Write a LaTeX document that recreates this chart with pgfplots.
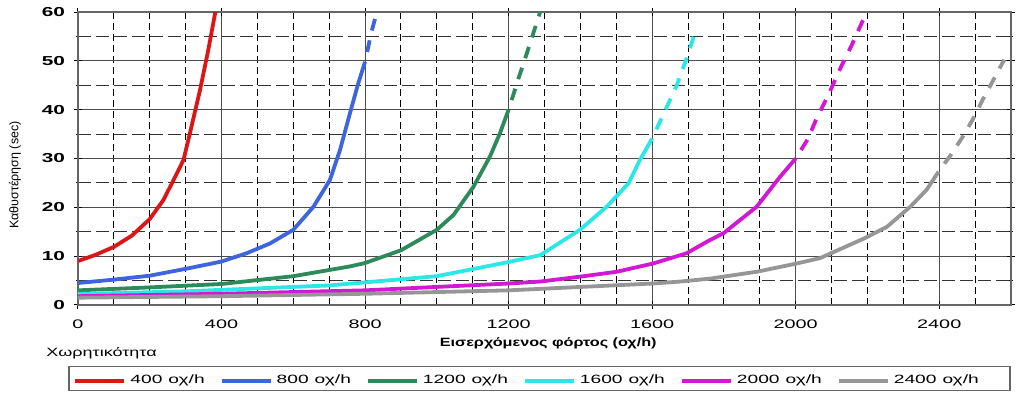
\documentclass[border=0pt]{standalone}
\usepackage{fontspec}
\setmainfont{Liberation Sans}[FakeStretch=1.6]
\newfontfamily\plainfont{Liberation Sans}
\usepackage{pgfplots}
\pgfplotsset{compat=1.18}
\definecolor{cred}{RGB}{220,22,22}
\definecolor{cblue}{RGB}{62,100,222}
\definecolor{cgreen}{RGB}{46,138,90}
\definecolor{ccyan}{RGB}{45,230,230}
\definecolor{cmag}{RGB}{210,24,210}
\definecolor{cgray}{RGB}{150,150,150}
\begin{document}
\begin{tikzpicture}
\useasboundingbox (0,0) rectangle (512pt,200pt);
\begin{axis}[
  at={(39pt,47.5pt)}, anchor=south west,
  scale only axis, width=466.5pt, height=146.5pt,
  xmin=0, xmax=2600, ymin=0, ymax=60,
  xtick={0,400,...,2400}, ytick={0,10,...,60},
  minor xtick={100,200,300,500,600,700,900,1000,1100,1300,1400,1500,1700,1800,1900,2100,2200,2300,2500},
  minor ytick={5,15,...,55},
  grid=both,
  major grid style={black!70, line width=0.5pt},
  minor x grid style={black, line width=0.5pt, dash pattern=on 3.5pt off 2pt},
  minor y grid style={black!80, line width=0.5pt, dash pattern=on 6.5pt off 2.5pt},
  axis line style={black!60, line width=0.6pt},
  tick align=center, major tick length=4pt, minor tick length=1.5pt,
  tick style={black, line width=0.5pt},
  /pgf/number format/assume math mode=true,
  /pgf/number format/1000 sep={},
  xticklabel style={font=\fontsize{6.2}{7}\selectfont, yshift=-2pt},
  yticklabel style={font=\fontsize{6.5}{7}\selectfont\bfseries, xshift=-1pt},
  ylabel={\plainfont Καθυστέρηση (sec)},
  ylabel style={font=\fontsize{6.25}{7}\selectfont, at={(axis description cs:-0.0675,0.4437)}, anchor=center},
  clip mode=individual,
  legend columns=6,
  legend cell align=left,
  legend style={at={(axis description cs:-0.00965,-0.2106)}, anchor=north west,
    draw=none, fill=none, inner xsep=2pt, inner ysep=2pt,
    font=\fontsize{6}{7}\selectfont,
    /tikz/every even column/.append style={column sep=5.5pt}},
  legend image code/.code={\draw[#1, line width=2pt, solid] (0pt,0pt) -- (24.5pt,0pt);},
  every axis plot/.append style={line width=1.9pt, line join=round},
]
% solid parts
\addplot[cred] coordinates {(0,9) (50,10.3) (100,11.9) (150,14.2) (200,17.6) (238,21.5) (265,25.4) (294,29.7) (312,35.2) (340,44) (363,52.2) (382,59.7) (388,62)};
\addlegendentry{400\enspace οχ/h}
\addplot[cblue] coordinates {(0,4.5) (100,5.2) (200,6.0) (300,7.4) (400,8.9) (470,10.6) (535,12.6) (600,15.4) (656,20.1) (702,25.6) (730,31.7) (758,39.3) (781,45.4) (800,49.8)};
\addlegendentry{800\enspace οχ/h}
\addplot[cgreen] coordinates {(0,3) (200,3.6) (400,4.3) (600,5.9) (758,7.9) (800,8.6) (900,11.2) (1000,15.4) (1046,18.4) (1102,24.2) (1148,30.4) (1176,35.2) (1200,40)};
\addlegendentry{1200\enspace οχ/h}
\addplot[ccyan] coordinates {(0,2.25) (300,2.8) (700,4.0) (1000,5.9) (1200,8.8) (1288,10.2) (1399,15.4) (1473,20.1) (1534,24.9) (1566,29.7) (1600,34.1)};
\addlegendentry{1600\enspace οχ/h}
\addplot[cmag] coordinates {(0,1.8) (400,2.3) (800,3.0) (1200,4.4) (1288,4.8) (1399,5.8) (1501,6.8) (1603,8.5) (1696,10.6) (1761,13.3) (1799,14.7) (1891,20.1) (1957,26.3) (2000,30)};
\addlegendentry{2000\enspace οχ/h}
\addplot[cgray] coordinates {(0,1.5) (400,1.8) (800,2.3) (1200,3.0) (1603,4.4) (1678,4.8) (1761,5.4) (1891,6.8) (2003,8.5) (2068,9.6) (2193,13.7) (2254,16.0) (2319,20.1) (2365,23.6) (2398,27.3)};
\addlegendentry{2400\enspace οχ/h}
% dashed continuations
\addplot[cblue, forget plot, dash pattern=on 6pt off 5pt, dash phase=6pt] coordinates {(800,49.8) (818,56) (832,59.7) (840,62)};
\addplot[cgreen, forget plot, dash pattern=on 6pt off 5pt, dash phase=6pt] coordinates {(1200,40) (1228,46.5) (1260,53.6) (1290,60.5)};
\addplot[ccyan, forget plot, dash pattern=on 6pt off 5pt, dash phase=6pt] coordinates {(1600,34.1) (1633,39.3) (1669,45.1) (1696,50.5) (1722,56.3)};
\addplot[cmag, forget plot, dash pattern=on 6pt off 5pt, dash phase=6pt] coordinates {(2000,30) (2035,34.1) (2058,38.2) (2091,43) (2122,48.1) (2156,53.2) (2188,58.4)};
\addplot[cgray, forget plot, dash pattern=on 6pt off 5pt, dash phase=6pt] coordinates {(2398,27.3) (2432,30.7) (2466,34.5) (2495,38.2) (2523,42.3) (2551,46.1) (2581,50.2)};
\draw[black!60, line width=0.6pt] (rel axis cs:-0.00965,-0.2106) rectangle (rel axis cs:0.99893,-0.2925);
\node[inner sep=0pt, anchor=center] at (rel axis cs:0.504,-0.13) {\fontsize{6}{7}\selectfont\scalebox{1.35}[1]{\plainfont\bfseries Εισερχόμενος φόρτος (οχ/h)}};
\node[inner sep=0pt, anchor=center] at (rel axis cs:0.0252,-0.163) {\fontsize{6}{7}\selectfont\scalebox{1.5}[1]{\plainfont Χωρητικότητα}};
\end{axis}
\end{tikzpicture}
\end{document}
